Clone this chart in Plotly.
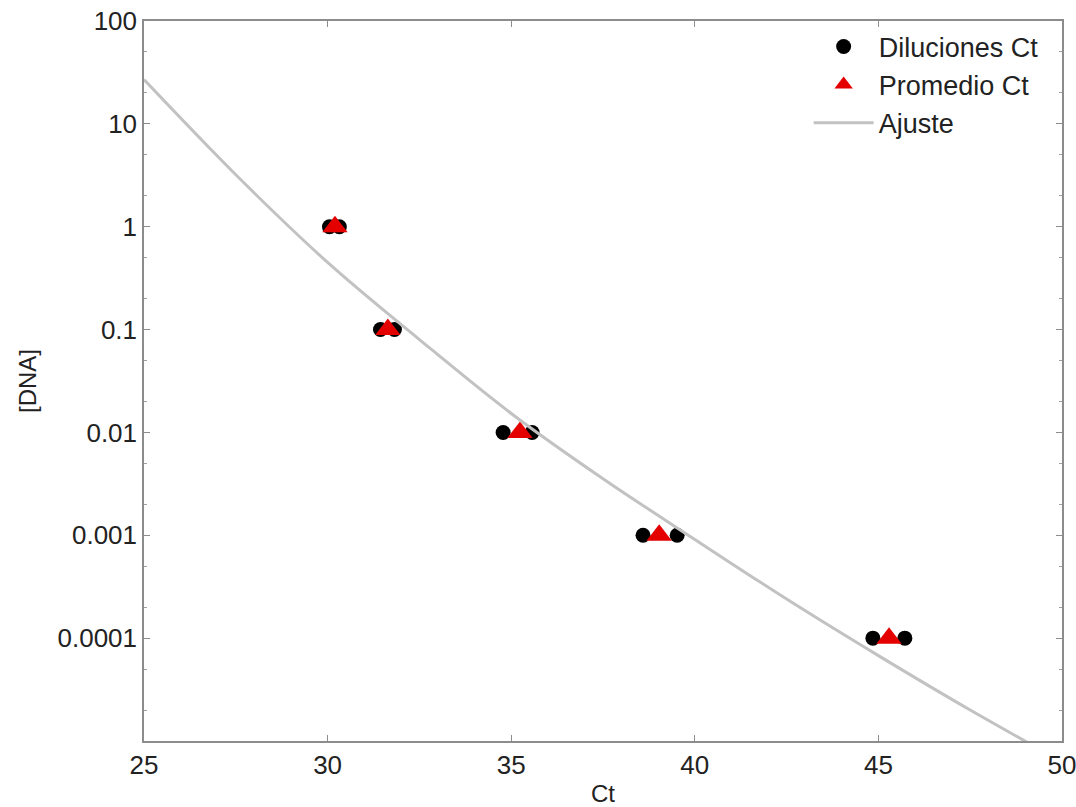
import plotly.graph_objects as go

# Dilution levels ([DNA])
dna_levels = [1, 0.1, 0.01, 0.001, 0.0001]
# Ct of the two replicate dilutions
ct_rep1 = [30.05, 31.44, 34.78, 38.59, 44.85]
ct_rep2 = [30.32, 31.82, 35.57, 39.52, 45.72]
# Average Ct
ct_mean = [30.20, 31.64, 35.24, 39.03, 45.29]

# Fitted curve, points
fit_ct = [25.0, 27.5, 30.0, 32.5, 35.0, 37.5, 40.0, 42.5, 45.0, 47.5, 50.0]
fit_dna = [26.9, 3.2, 0.45, 0.0800, 0.0153, 0.00355, 0.000912, 0.00024,
           0.0000676, 0.0000200, 0.0000063]

y_tickvals = [100, 10, 1, 0.1, 0.01, 0.001, 0.0001]
y_ticktext = ["100", "10", "1", "0.1", "0.01", "0.001", "0.0001"]
x_tickvals = [25, 30, 35, 40, 45, 50]

font_family = "Liberation Sans, Arial, sans-serif"
txt = "#222222"

fig = go.Figure()
fig.add_trace(go.Scatter(
    x=ct_rep1 + ct_rep2, y=dna_levels + dna_levels, mode="markers",
    name="Diluciones Ct",
    marker=dict(symbol="circle", size=15, color="black"),
))
fig.add_trace(go.Scatter(
    x=ct_mean, y=dna_levels, mode="markers", name="Promedio Ct",
    marker=dict(symbol="triangle-up", size=22, color="#e50000"),
))
fig.add_trace(go.Scatter(
    x=fit_ct, y=fit_dna, mode="lines", name="Ajuste",
    line=dict(color="#c2c2c2", width=3, shape="spline", smoothing=1.0),
))

axis_common = dict(
    showline=True, linecolor="#8c8c8c", linewidth=1.5, mirror="ticks",
    ticks="inside", ticklen=6, tickcolor="#8c8c8c", showgrid=False,
    zeroline=False, automargin=False, ticklabeloverflow="allow",
    tickfont=dict(size=26, color=txt, family=font_family),
)

fig.update_xaxes(
    range=[25, 50], tickvals=x_tickvals,
    title=dict(text="Ct", font=dict(size=24, color=txt, family=font_family), standoff=10),
    **axis_common,
)
fig.update_yaxes(
    type="log", range=[-5, 2], tickvals=y_tickvals, ticktext=y_ticktext,
    minor=dict(ticks="inside", ticklen=3, tickcolor="#a0a0a0", showgrid=False),
    title=dict(text="[DNA]", font=dict(size=24, color=txt, family=font_family), standoff=14),
    **axis_common,
)

fig.update_layout(
    width=1076, height=807,
    margin=dict(l=144, r=14, t=21, b=66),
    paper_bgcolor="white", plot_bgcolor="white",
    font=dict(family=font_family, color=txt),
    showlegend=True,
    legend=dict(
        x=0.98, y=0.998, xanchor="right", yanchor="top",
        bgcolor="rgba(0,0,0,0)", borderwidth=0, itemwidth=60,
        font=dict(size=27, color=txt, family=font_family),
    ),
)

fig.write_html("out.html")
